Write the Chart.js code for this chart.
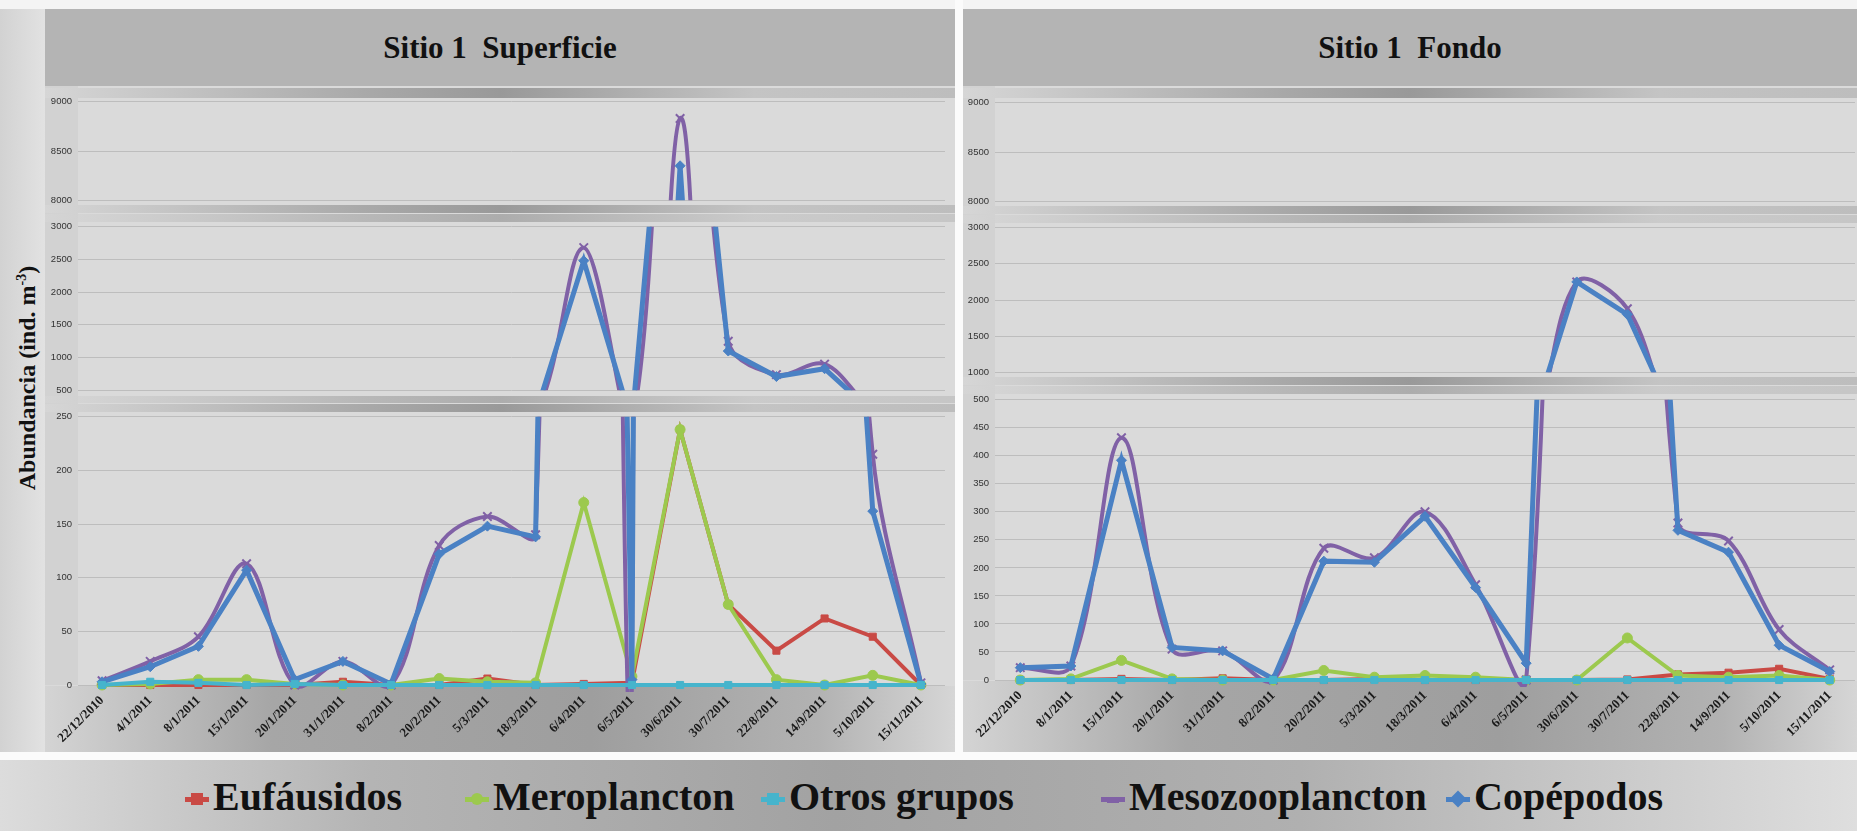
<!DOCTYPE html>
<html>
<head>
<meta charset="utf-8">
<script src="https://cdn.jsdelivr.net/npm/chart.js@4.4.1/dist/chart.umd.min.js"></script>
<style>
body { margin:0; width:1857px; height:831px; position:relative; overflow:hidden; background:#d9d9d9; font-family:"Liberation Serif", serif; }
.abs { position:absolute; }
.hdr { background:#b4b4b4; top:9px; height:77px; font-weight:bold; font-size:31px; color:#111; display:flex; align-items:center; justify-content:center; white-space:pre; }
.band { background:linear-gradient(to right,#d6d6d6 0%,#a9a9a9 35%,#999 50%,#c4c4c4 78%,#bdbdbd 100%); }
.xband { background:linear-gradient(to right,#d4d4d4 0%,#a6a6a6 25%,#9e9e9e 60%,#b2b2b2 85%,#d6d6d6 100%); }
canvas { position:absolute; }
.leg { position:absolute; top:774px; font-weight:bold; font-size:40px; color:#111; line-height:46px; }
.mk { position:absolute; top:797px; height:5px; width:24px; }
.mk i { position:absolute; left:6px; top:-4px; width:12px; height:12px; }
</style>
</head>
<body>
<div class="abs" style="left:0;top:0;width:1857px;height:9px;background:#f4f4f4"></div>
<div class="abs" style="left:0;top:9px;width:45px;height:745px;background:linear-gradient(to right,#d2d2d2,#e2e2e2)"></div>

<!-- left panel frame -->
<div class="abs hdr" style="left:45px;width:910px">Sitio 1  Superficie</div>
<div class="abs" style="left:45px;top:86px;width:910px;height:666px;background:#dadada"></div>
<div class="abs" style="left:45px;top:86px;width:33px;height:599px;background:#d2d2d2"></div>
<div class="abs band" style="left:45px;top:88px;width:910px;height:10px"></div>
<div class="abs band" style="left:45px;top:205px;width:910px;height:8px"></div>
<div class="abs band" style="left:45px;top:214px;width:910px;height:8px;opacity:.7"></div>
<div class="abs band" style="left:45px;top:396px;width:910px;height:7px;opacity:.7"></div>
<div class="abs band" style="left:45px;top:404px;width:910px;height:8px"></div>
<div class="abs xband" style="left:45px;top:686px;width:910px;height:66px"></div>

<!-- right panel frame -->
<div class="abs hdr" style="left:963px;width:894px">Sitio 1  Fondo</div>
<div class="abs" style="left:963px;top:86px;width:894px;height:666px;background:#dadada"></div>
<div class="abs" style="left:963px;top:86px;width:32px;height:594px;background:#d2d2d2"></div>
<div class="abs band" style="left:963px;top:88px;width:894px;height:10px"></div>
<div class="abs band" style="left:963px;top:206px;width:894px;height:8px"></div>
<div class="abs band" style="left:963px;top:215px;width:894px;height:8px;opacity:.7"></div>
<div class="abs band" style="left:963px;top:377px;width:894px;height:8px"></div>
<div class="abs band" style="left:963px;top:386px;width:894px;height:8px;opacity:.7"></div>
<div class="abs xband" style="left:963px;top:681px;width:894px;height:71px"></div>

<div class="abs" style="left:955px;top:0;width:8px;height:760px;background:#fbfbfb"></div>
<div class="abs" style="left:0;top:752px;width:1857px;height:8px;background:#fbfbfb"></div>
<div class="abs" style="left:0;top:760px;width:1857px;height:71px;background:linear-gradient(to right,#dcdcdc 0%,#b4b4b4 20%,#a2a2a2 45%,#b0b0b0 70%,#dedede 100%)"></div>

<div class="abs" style="left:27px;top:378px;transform:translate(-50%,-50%) rotate(-90deg);white-space:nowrap;font-weight:bold;font-size:24px;color:#111">Abundancia (ind. m<sup style="font-size:14px">-3</sup>)</div>

<canvas id="sup_top" style="left:45px;top:90px" width="910" height="122"></canvas>
<canvas id="sup_mid" style="left:45px;top:215px" width="910" height="187"></canvas>
<canvas id="sup_bot" style="left:45px;top:405px" width="910" height="347"></canvas>
<canvas id="fon_top" style="left:963px;top:91px" width="900" height="122"></canvas>
<canvas id="fon_mid" style="left:963px;top:216px" width="900" height="168"></canvas>
<canvas id="fon_bot" style="left:963px;top:388px" width="900" height="364"></canvas>

<div id="legend"></div>

<script>
// --- data ---
const cats_sup = ['22/12/2010', '4/1/2011', '8/1/2011', '15/1/2011', '20/1/2011', '31/1/2011', '8/2/2011', '20/2/2011', '5/3/2011', '18/3/2011', '6/4/2011', '6/5/2011', '30/6/2011', '30/7/2011', '22/8/2011', '14/9/2011', '5/10/2011', '15/11/2011'];
const cats_fon = ['22/12/2010', '8/1/2011', '15/1/2011', '20/1/2011', '31/1/2011', '8/2/2011', '20/2/2011', '5/3/2011', '18/3/2011', '6/4/2011', '6/5/2011', '30/6/2011', '30/7/2011', '22/8/2011', '14/9/2011', '5/10/2011', '15/11/2011'];

const series_names = ['Eufáusidos', 'Meroplancton', 'Otros grupos', 'Mesozooplancton', 'Copépodos'];

const eufausidos_sup = [0, 0, 0, 0, 0, 3, 0, 0, 6, 0, 1, 2, 238, 75, 32, 62, 45, 0];
const meroplancton_sup = [0, 1, 5, 5, 1, 0, 0, 6, 3, 2, 170, 8, 238, 75, 5, 0, 9, 0];
const otros_sup = [0, 3, 2, 0, 1, 0, 0, 0, 0, 0, 0, 0, 0, 0, 0, 0, 0, 0];
const mesozoo_sup = [4, 22, 45, 113, 0, 22, 0, 130, 157, 140, 2680, 2, 8830, 1250, 740, 900, 215, 2];
const copepodos_sup = [3, 17, 36, 107, 5, 22, 1, 122, 148, 138, 2480, 5, 8350, 1100, 710, 830, 162, 1];

const eufausidos_fon = [0, 0, 2, 0, 3, 0, 0, 2, 0, 0, 0, 0, 1, 10, 13, 20, 2];
const meroplancton_fon = [0, 2, 35, 2, 0, 0, 17, 5, 8, 5, 0, 0, 75, 8, 5, 8, 0];
const otros_fon = [0, 0, 0, 0, 0, 0, 0, 0, 0, 0, 0, 0, 0, 0, 0, 0, 0];
const mesozoo_fon = [22, 25, 432, 55, 52, 0, 235, 218, 300, 170, 0, 2250, 1880, 280, 248, 90, 18];
const copepodos_fon = [22, 25, 392, 58, 52, 2, 212, 210, 292, 165, 30, 2250, 1800, 267, 228, 62, 15];

// --- styles ---
const colors = ['#c94a45', '#9cc94e', '#46b4cc', '#8061a6', '#4a81c4'];
const markers = ['rect', 'circle', 'rect', 'crossRot', 'rectRot'];
const tensions = [0, 0, 0, 0.35, 0];
const orders = [4, 3, 0, 2, 1];

function make_sets(values, bottom) {
    return values.map((v, i) => ({
        label: series_names[i],
        data: v,
        borderColor: colors[i],
        backgroundColor: colors[i],
        borderWidth: i == 4 ? 5 : 4,
        pointStyle: markers[i],
        pointRadius: markers[i] == 'crossRot' ? 6 : 5,
        pointBorderWidth: markers[i] == 'crossRot' ? 2 : 1,
        tension: tensions[i],
        order: orders[i],
        clip: { left: false, right: false, top: 0, bottom: bottom ? 7 : 0 }
    }));
}

function segment(id, labels, values, min, max, step, yw, padRight, showX, xh) {
    return new Chart(document.getElementById(id), {
        type: 'line',
        data: { labels: labels, datasets: make_sets(values, showX) },
        options: {
            responsive: false,
            animation: false,
            layout: { padding: { top: 8, bottom: showX ? 0 : 8, left: 0, right: padRight } },
            elements: { line: { capBezierPoints: false } },
            plugins: { legend: { display: false }, tooltip: { enabled: false } },
            scales: {
                x: {
                    display: showX,
                    offset: true,
                    grid: { display: false, drawTicks: false },
                    border: { display: false },
                    ticks: {
                        autoSkip: false, minRotation: 45, maxRotation: 45, padding: 8,
                        color: '#1a1a1a',
                        font: { family: 'Liberation Serif', weight: 'bold', size: 13 }
                    },
                    afterFit: s => { s.height = xh; }
                },
                y: {
                    min: min, max: max,
                    ticks: {
                        stepSize: step, padding: 6, color: '#333',
                        font: { family: 'Liberation Sans', size: 9.5 },
                        callback: v => String(v)
                    },
                    grid: { color: '#bdbdbd', lineWidth: 1, drawTicks: false },
                    border: { display: false },
                    afterFit: s => { s.width = yw; }
                }
            }
        }
    });
}

const sup = [eufausidos_sup, meroplancton_sup, otros_sup, mesozoo_sup, copepodos_sup];
const fon = [eufausidos_fon, meroplancton_fon, otros_fon, mesozoo_fon, copepodos_fon];

segment('sup_top', cats_sup, sup, 8000, 9000, 500, 33, 10, false, 0);
segment('sup_mid', cats_sup, sup, 500, 3000, 500, 33, 10, false, 0);
segment('sup_bot', cats_sup, sup, 0, 250, 50, 33, 10, true, 67);

segment('fon_top', cats_fon, fon, 8000, 9000, 500, 32, 0, false, 0);
segment('fon_mid', cats_fon, fon, 1000, 3000, 500, 32, 0, false, 0);
segment('fon_bot', cats_fon, fon, 0, 500, 50, 32, 0, true, 72);

// legend
const legend_x = [213, 493, 789, 1129, 1474];
const legend = document.getElementById('legend');
series_names.forEach((name, i) => {
    const mk = document.createElement('div');
    mk.className = 'mk';
    mk.style.left = (legend_x[i] - 28) + 'px';
    mk.style.background = colors[i];
    const dot = document.createElement('i');
    dot.style.background = colors[i];
    if (markers[i] == 'circle') dot.style.borderRadius = '50%';
    if (markers[i] == 'rectRot') dot.style.transform = 'rotate(45deg)';
    if (markers[i] == 'crossRot') { dot.style.height = '6px'; dot.style.top = '-0.5px'; }
    mk.appendChild(dot);
    legend.appendChild(mk);
    const t = document.createElement('div');
    t.className = 'leg';
    t.style.left = legend_x[i] + 'px';
    t.textContent = name;
    legend.appendChild(t);
});
</script>
</body>
</html>
